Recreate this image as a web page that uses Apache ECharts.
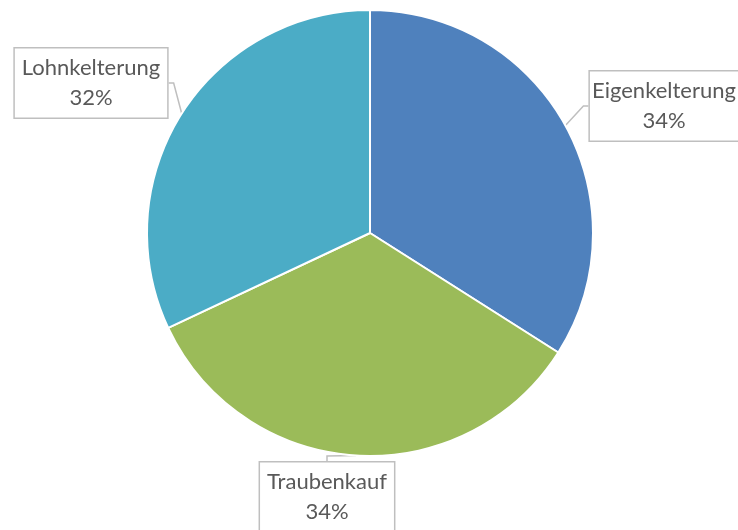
<!DOCTYPE html>
<html><head><meta charset="utf-8">
<script src="https://cdn.jsdelivr.net/npm/echarts@6/dist/echarts.min.js"></script>
<style>html,body{margin:0;padding:0;background:#fff}#c{width:738px;height:530px}</style>
</head><body><div id="c"></div>
<script>
const categories = ["Eigenkelterung", "Traubenkauf", "Lohnkelterung"];
const values = [34, 34, 32];
const colors = ["#4F81BD", "#9BBB59", "#4BACC6"];

const labelPos = [[664, 106], [327, 497], [91, 83]];
const chart = echarts.init(document.getElementById('c'), null, {renderer: 'canvas'});
chart.setOption({
  animation: false,
  series: [{
    type: 'pie',
    center: [370, 233],
    radius: 223,
    startAngle: 90,
    clockwise: true,
    data: categories.map((c, i) => ({name: c, value: values[i], itemStyle: {color: colors[i]}})),
    itemStyle: {borderColor: '#fff', borderWidth: 2},
    label: {
      show: true,
      position: 'outside',
      overflow: 'none',
      formatter: p => p.name + '\n' + Math.round(p.percent) + '%',
      fontFamily: 'Lato, "Open Sans", sans-serif',
      fontSize: 22,
      lineHeight: 30,
      color: '#595959',
      align: 'center',
      backgroundColor: '#fff',
      borderColor: '#BFBFBF',
      borderWidth: 1.5,
      padding: [6, 7, 3, 7]
    },
    labelLine: {show: true, length: 5, length2: 5, lineStyle: {color: '#BFBFBF', width: 1.5}},
    labelLayout: function (p) {
      const pos = labelPos[p.dataIndex];
      return {x: pos[0], y: pos[1], align: 'center', verticalAlign: 'middle'};
    }
  }]
});
</script></body></html>
